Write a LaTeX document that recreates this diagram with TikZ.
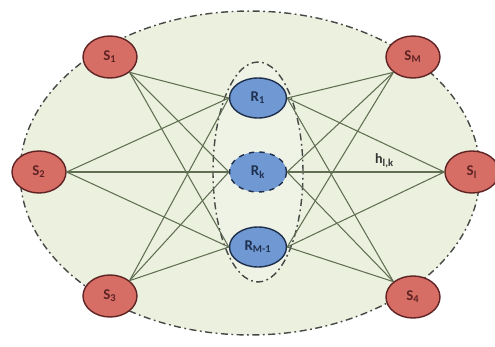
\documentclass[tikz,border=0pt]{standalone}
\usepackage{fontspec}
\setmainfont{Carlito}
\usetikzlibrary{shapes.geometric}
\definecolor{bggreen}{RGB}{235,241,222}
\definecolor{groupfill}{RGB}{239,243,229}
\definecolor{srcred}{RGB}{214,110,102}
\definecolor{srcdark}{RGB}{95,35,35}
\definecolor{relayblue}{RGB}{112,152,210}
\definecolor{relaydark}{RGB}{30,48,78}
\definecolor{linkgreen}{RGB}{96,110,82}
\definecolor{rimgray}{RGB}{70,72,70}

\begin{document}
\begin{tikzpicture}[x=0.02cm, y=0.02cm]
\tikzstyle{source} = [ellipse, minimum width=1.08cm, minimum height=0.84cm, inner sep=0pt, draw=srcdark, fill=srcred, line width=0.8pt, font=\bfseries\fontsize{8.5}{9}\selectfont, text=srcdark]
\tikzstyle{relay} = [ellipse, minimum width=1.14cm, minimum height=0.8cm, inner sep=0pt, draw=relaydark, fill=relayblue, line width=0.8pt, font=\bfseries\fontsize{8.5}{9}\selectfont, text=relaydark]
\tikzstyle{rim} = [draw=rimgray, line width=0.8pt, dash pattern=on 4pt off 2pt on 1pt off 2pt]
\tikzstyle{link} = [draw=linkgreen, line width=0.6pt]

\useasboundingbox (0,0) rectangle (495,346);

% cell and relay group
\node (cell) [ellipse, rim, fill=bggreen, minimum width=9.2cm, minimum height=6.48cm] at (250,173) {};
\node (group) [ellipse, rim, fill=groupfill, minimum width=1.8cm, minimum height=4.4cm] at (258,174) {};

% sources
\node (S1) [source] at (110,289) {S\textsubscript{1}};
\node (S2) [source] at (39,174) {S\textsubscript{2}};
\node (S3) [source] at (110,50) {S\textsubscript{3}};
\node (SM) [source] at (413,289) {S\textsubscript{M}};
\node (Sl) [source] at (472,174) {S\textsubscript{l}};
\node (S4) [source] at (413,49) {S\textsubscript{4}};

% relays
\node (R1) [relay] at (258,248) {R\textsubscript{1}};
\node (Rk) [relay, dashed] at (258,174) {R\textsubscript{k}};
\node (RM) [relay] at (258,99) {R\textsubscript{M-1}};

% links
\foreach \r in {R1,Rk,RM} {
  \draw [link] (S1.south east) -- (\r.west);
  \draw [link] (S2.east) -- (\r.west);
  \draw [link] (S3.north east) -- (\r.west);
  \draw [link] (SM.south west) -- (\r.east);
  \draw [link] (Sl.west) -- (\r.east);
  \draw [link] (S4.north west) -- (\r.east);
}
\path (Rk.east) -- node[pos=0.62, above=-1pt, font=\bfseries\fontsize{8}{9}\selectfont, text=black!80] {h\textsubscript{l,k}} (Sl.west);
\end{tikzpicture}
\end{document}
